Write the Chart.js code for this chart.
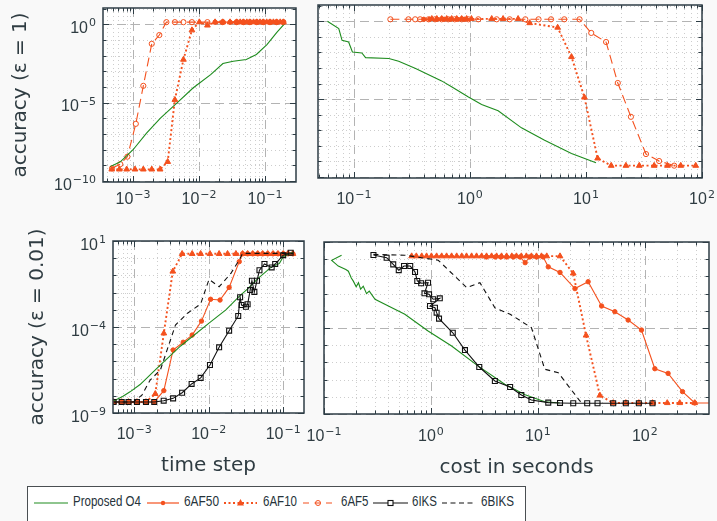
<!DOCTYPE html>
<html>
<head>
<meta charset="utf-8">
<script src="https://cdn.jsdelivr.net/npm/chart.js@4.4.1/dist/chart.umd.min.js"></script>
<style>
  html, body { margin: 0; padding: 0; background: #f9f9f9; width: 717px; height: 521px; overflow: hidden; }
  canvas { position: absolute; }
  #legend { position: absolute; left: 27px; top: 486px; width: 497px; height: 44px; background: #fff; border: 1px solid #4a4f52; }
  .sw { position: absolute; top: 10px; }
  .lt { position: absolute; top: 6px; font: 14.5px "Liberation Sans Narrow", "Liberation Sans", sans-serif; color: #26333a; white-space: nowrap; transform-origin: 0 0; }
</style>
</head>
<body>
<canvas id="tl" width="310" height="212" style="left:0;top:0"></canvas>
<canvas id="tr" width="407" height="212" style="left:310px;top:0"></canvas>
<canvas id="bl" width="295" height="265" style="left:15px;top:215px"></canvas>
<canvas id="br" width="422" height="265" style="left:295px;top:215px"></canvas>

<div id="legend">
  <svg class="sw" style="left:6px" width="34" height="12"><line x1="0" y1="6" x2="34" y2="6" stroke="#1e8c1e" stroke-width="1.2"/></svg>
  <span class="lt" data-w="68" style="left:45px">Proposed O4</span>
  <svg class="sw" style="left:119px" width="32" height="12"><line x1="0" y1="6" x2="32" y2="6" stroke="#f4511e" stroke-width="1.2"/><circle cx="16" cy="6" r="2.2" fill="#f4511e"/></svg>
  <span class="lt" data-w="35" style="left:156px">6AF50</span>
  <svg class="sw" style="left:196px" width="33" height="12"><line x1="0" y1="6" x2="33" y2="6" stroke="#f4511e" stroke-width="1.8" stroke-dasharray="2 2.5"/><polygon points="16.5,2 20,8.5 13,8.5" fill="#f4511e"/></svg>
  <span class="lt" data-w="34" style="left:235px">6AF10</span>
  <svg class="sw" style="left:275px" width="30" height="12"><line x1="0" y1="6" x2="30" y2="6" stroke="#f4511e" stroke-width="1.2" stroke-dasharray="6 5.5"/><circle cx="15" cy="6" r="2.5" fill="none" stroke="#f4511e" stroke-width="1"/></svg>
  <span class="lt" data-w="27.5" style="left:313px">6AF5</span>
  <svg class="sw" style="left:345px" width="35" height="12"><line x1="0" y1="6" x2="35" y2="6" stroke="#111" stroke-width="1.2"/><rect x="15" y="3.5" width="5" height="5" fill="#fff" stroke="#111" stroke-width="1.1"/></svg>
  <span class="lt" data-w="25" style="left:384px">6IKS</span>
  <svg class="sw" style="left:414px" width="32" height="12"><line x1="0" y1="6" x2="32" y2="6" stroke="#111" stroke-width="1.2" stroke-dasharray="5 3.5"/></svg>
  <span class="lt" data-w="33" style="left:453px">6BIKS</span>
</div>

<script>
// ---- data: [x, y] pairs ----
// top left: accuracy (eps = 1) vs time step
const tlO4 = [[4.5e-4, 8.3e-10], [6.4e-4, 1.7e-9], [1.0e-3, 1.0e-8], [1.6e-3, 1.15e-7], [2.6e-3, 1.05e-6], [4.6e-3, 9.5e-6], [8.1e-3, 8.7e-5], [1.5e-2, 6.2e-4], [2.3e-2, 3.2e-3], [3.3e-2, 4.5e-3], [5.2e-2, 5.8e-3], [7.4e-2, 1.2e-2], [0.107, 5.2e-2], [0.15, 0.3], [0.2, 1.15]];
const tlAF50 = [[1.75e-2, 1.4], [2.29e-2, 1.4], [2.95e-2, 1.4], [3.72e-2, 1.4], [4.7e-2, 1.4], [5.9e-2, 1.4], [7.5e-2, 1.4], [9.4e-2, 1.4], [0.119, 1.4], [0.15, 1.4], [0.19, 1.4]];
const tlAF10 = [[4.75e-4, 5.6e-10], [6.2e-4, 5.6e-10], [8.0e-4, 5.6e-10], [1.07e-3, 5.6e-10], [1.43e-3, 5.6e-10], [1.92e-3, 5.6e-10], [2.57e-3, 5.6e-10], [3.35e-3, 1.7e-9], [4.3e-3, 1.55e-5], [5.8e-3, 5.7e-3], [7.8e-3, 0.43], [1.01e-2, 1.4], [1.34e-2, 0.87], [1.75e-2, 1.4], [2.29e-2, 1.4], [2.95e-2, 1.4], [3.72e-2, 1.4], [4.2e-2, 1.4], [4.7e-2, 1.4], [5.3e-2, 1.4], [5.9e-2, 1.4], [6.7e-2, 1.4], [7.5e-2, 1.4], [8.4e-2, 1.4], [9.4e-2, 1.4], [0.106, 1.4], [0.119, 1.4], [0.134, 1.4], [0.15, 1.4], [0.17, 1.4], [0.19, 1.4]];
const tlAF5 = [[4.8e-4, 6.5e-10], [6.4e-4, 1.2e-9], [8.2e-4, 3.6e-9], [1.1e-3, 4.5e-7], [1.43e-3, 1.2e-4], [1.92e-3, 5.8e-2], [2.5e-3, 0.21], [3.2e-3, 1.4], [4.3e-3, 1.4], [5.8e-3, 1.4], [7.8e-3, 1.4], [1.34e-2, 1.4], [2.29e-2, 1.4], [3.72e-2, 1.4], [4.7e-2, 1.4], [5.9e-2, 1.4], [7.5e-2, 1.4], [9.4e-2, 1.4], [0.119, 1.4], [0.15, 1.4], [0.19, 1.4]];

// top right: accuracy (eps = 1) vs cost
const trO4 = [[0.059, 1.0], [0.074, 0.34], [0.079, 0.06], [0.09, 0.047], [0.097, 0.0107], [0.117, 0.0093], [0.126, 0.0047], [0.2, 0.0041], [0.243, 0.0027], [0.34, 9.3e-4], [0.57, 1.5e-4], [0.70, 6.1e-5], [0.97, 1.4e-5], [1.26, 4.6e-6], [1.75, 1.8e-6], [2.78, 1.45e-7], [4.4, 2.3e-8], [7.5, 3.3e-9], [12.2, 8.3e-10]];
const trAF50 = [[0.40, 1.35], [0.45, 1.35], [0.52, 1.35], [0.60, 1.35], [0.68, 1.35], [0.78, 1.35], [0.90, 1.35]];
const trAF10 = [[0.469, 1.45], [0.518, 1.45], [0.571, 1.45], [0.63, 1.45], [0.696, 1.45], [0.769, 1.45], [0.848, 1.45], [0.936, 1.45], [1.03, 1.45], [1.54, 1.45], [1.93, 1.45], [2.6, 1.45], [3.27, 0.78], [5.7, 0.4], [7.5, 5.2e-3], [9.7, 1.3e-5], [12.6, 1.6e-9], [16.5, 5.4e-10], [22.1, 5.4e-10], [28.8, 5.4e-10], [38.7, 5.4e-10], [50.4, 5.4e-10], [65.6, 5.4e-10], [88.3, 5.4e-10]];
const trAF5 = [[0.206, 1.35], [0.295, 1.35], [0.337, 1.35], [0.372, 1.35], [0.44, 1.35], [0.5, 1.35], [0.57, 1.35], [0.65, 1.35], [0.74, 1.35], [0.85, 1.35], [0.97, 1.35], [1.18, 1.35], [1.7, 1.35], [2.2, 1.35], [3.0, 1.35], [3.9, 1.35], [5.0, 1.35], [6.5, 1.35], [8.8, 1.35], [11.1, 0.18], [14.9, 0.047], [18.8, 1.1e-4], [24.4, 7.4e-7], [32.9, 3.0e-9], [42.7, 1.07e-9], [57.6, 5.4e-10]];

// bottom left: accuracy (eps = 0.01) vs time step
const blO4 = [[5.3e-4, 5.0e-9], [7.0e-4, 9e-9], [8.8e-4, 1.7e-8], [1.2e-3, 4.5e-8], [2.0e-3, 3.8e-7], [4.2e-3, 7.9e-6], [1.06e-2, 2.0e-4], [1.7e-2, 9.8e-4], [2.57e-2, 6.0e-3], [3.3e-2, 1.6e-2], [4.6e-2, 6.7e-2], [6.9e-2, 0.3], [8.9e-2, 0.5], [0.1, 1.2], [0.135, 2.2]];
const blAF50 = [[5.3e-4, 4.4e-9], [6.8e-4, 4.4e-9], [8.4e-4, 4.4e-9], [1.09e-3, 4.4e-9], [1.44e-3, 4.4e-9], [1.86e-3, 4.4e-9], [2.5e-3, 2.0e-8], [3.33e-3, 4.6e-6], [4.55e-3, 1.3e-5], [6.0e-3, 3.4e-5], [8.0e-3, 2.2e-4], [1.06e-2, 4.1e-3], [1.42e-2, 3.7e-3], [1.88e-2, 2.0e-2], [2.57e-2, 0.63], [2.85e-2, 1.8], [3.33e-2, 1.8], [3.9e-2, 1.8], [4.55e-2, 1.8], [5.3e-2, 1.8], [6.2e-2, 1.8], [7.3e-2, 1.8], [8.5e-2, 1.8], [0.1, 1.8], [0.116, 1.8], [0.135, 1.8]];
const blAF10 = [[5.3e-4, 4.4e-9], [6.8e-4, 4.4e-9], [8.4e-4, 4.4e-9], [1.09e-3, 4.4e-9], [1.44e-3, 4.4e-9], [1.92e-3, 1.3e-8], [2.5e-3, 4.3e-5], [3.3e-3, 0.17], [4.4e-3, 1.8], [6.0e-3, 1.8], [7.8e-3, 1.8], [1.04e-2, 1.8], [1.38e-2, 1.8], [1.79e-2, 1.8], [2.32e-2, 1.8], [2.85e-2, 1.8], [3.33e-2, 1.8], [3.9e-2, 1.8], [4.55e-2, 1.8], [5.3e-2, 1.8], [6.2e-2, 1.8], [7.3e-2, 1.8], [8.5e-2, 1.8], [0.1, 1.8], [0.116, 1.8], [0.135, 1.8]];
const blIKS = [[5.3e-4, 4.4e-9], [6.8e-4, 4.4e-9], [8.4e-4, 4.4e-9], [1.09e-3, 4.4e-9], [1.44e-3, 4.4e-9], [1.86e-3, 4.4e-9], [2.49e-3, 5.2e-9], [3.33e-3, 7.1e-9], [4.4e-3, 1.5e-8], [5.9e-3, 4.9e-8], [7.8e-3, 1.1e-7], [1.04e-2, 6.2e-7], [1.38e-2, 6.6e-6], [1.88e-2, 6.1e-5], [2.49e-2, 4.4e-4], [2.64e-2, 5.4e-3], [2.76e-2, 1.9e-3], [3.16e-2, 1.5e-3], [3.33e-2, 2.1e-3], [3.6e-2, 1.4e-2], [3.8e-2, 4.9e-2], [4.1e-2, 1.1e-2], [4.45e-2, 4.9e-2], [4.8e-2, 0.2], [5.6e-2, 0.46], [7.0e-2, 0.29], [7.8e-2, 0.46], [0.1, 1.5], [0.126, 2.1]];
const blBIKS = [[5.3e-4, 4.4e-9], [9.8e-4, 4.4e-9], [1.27e-3, 1.1e-8], [1.64e-3, 8.3e-8], [2.25e-3, 3.2e-7], [3.06e-3, 1.7e-5], [3.58e-3, 1.3e-4], [5.2e-3, 6.3e-4], [7.8e-3, 2.2e-3], [1.01e-2, 5.9e-2], [1.38e-2, 2.2e-2], [1.98e-2, 0.13], [2.57e-2, 0.8], [2.85e-2, 1.9], [0.135, 1.9]];

// bottom right: accuracy (eps = 0.01) vs cost
const brO4 = [[0.146, 1.7], [0.118, 0.86], [0.136, 0.4], [0.16, 0.25], [0.169, 0.2], [0.18, 0.08], [0.188, 5.3e-2], [0.2, 2.5e-2], [0.21, 4.3e-2], [0.22, 1.8e-2], [0.233, 2.7e-2], [0.25, 1.0e-2], [0.265, 1.4e-2], [0.30, 4.7e-3], [0.40, 1.9e-3], [0.57, 6.3e-4], [0.94, 6.7e-5], [1.56, 9e-6], [2.77, 6.1e-7], [4.9, 5.4e-8], [7.6, 1.3e-8], [11.6, 5.2e-9], [16, 4.4e-9]];
const brAF50 = [[3.3, 1.35], [4.0, 1.35], [4.5, 1.35], [5.1, 1.35], [5.9, 1.35], [6.8, 1.35], [7.6, 0.63], [8.4, 1.35], [9.7, 1.35], [11.2, 1.35], [12.5, 0.36], [16.1, 0.17], [22.2, 0.0195], [29.5, 0.049], [39.4, 1.9e-3], [52.4, 8.9e-4], [69.8, 2.9e-4], [93, 7.6e-5], [124, 4.3e-7], [165, 2.3e-7], [225, 2.0e-8], [293, 4.4e-9], [480, 4.4e-9]];
const brAF10 = [[0.66, 1.5], [0.73, 1.5], [0.82, 1.5], [0.91, 1.5], [1.01, 1.5], [1.13, 1.5], [1.26, 1.5], [1.40, 1.5], [1.56, 1.5], [1.74, 1.5], [1.94, 1.5], [2.15, 1.5], [2.40, 1.5], [2.67, 1.5], [2.98, 1.5], [3.31, 1.5], [3.69, 1.5], [4.11, 1.5], [4.57, 1.5], [5.1, 1.5], [5.7, 1.5], [6.3, 1.5], [7.0, 1.5], [7.8, 1.5], [8.7, 1.5], [9.7, 1.5], [10.8, 1.5], [12.1, 1.5], [16.1, 1.5], [21.4, 0.15], [28.2, 3.7e-5], [38, 1.2e-8], [50.6, 4.4e-9], [66.4, 4.4e-9], [87.9, 4.4e-9], [118, 4.4e-9], [162, 4.4e-9], [212, 4.4e-9], [293, 4.4e-9]];
const brIKS = [[0.29, 1.75], [0.385, 1.22], [0.444, 0.5], [0.50, 0.23], [0.56, 0.40], [0.64, 0.40], [0.71, 0.18], [0.745, 0.054], [0.81, 0.04], [0.94, 0.043], [0.87, 0.0104], [0.96, 0.0091], [1.05, 0.0047], [1.21, 0.0053], [0.98, 0.0019], [1.09, 0.0015], [1.13, 7.8e-4], [1.19, 3.5e-4], [1.6, 5.3e-5], [2.08, 5.2e-6], [2.83, 5.4e-7], [3.96, 8.3e-8], [5.5, 3.7e-8], [7.0, 1.27e-8], [8.7, 6.5e-9], [12.5, 4.6e-9], [16.1, 4.4e-9], [21.4, 4.2e-9], [28.9, 4.2e-9], [36.1, 4.2e-9], [50.6, 4.2e-9], [66.4, 4.2e-9], [87.9, 4.2e-9], [118, 4.2e-9]];
const brBIKS = [[0.29, 1.9], [0.57, 1.7], [1.17, 0.87], [2.16, 0.022], [2.87, 0.043], [3.96, 1.5e-3], [5.5, 6.3e-4], [8.7, 1.04e-4], [11.6, 4e-7], [15.5, 2.5e-7], [24.7, 5.7e-9], [27.5, 4.4e-9]];

// ---- styles ----
const ORANGE = '#f4511e';
const GREEN = '#1e8c1e';
const INK = '#2f3c42';
const FRAME = '#2e3d45';
const NONE = 'rgba(0,0,0,0)';

const styles = {
  'Proposed O4': { borderColor: GREEN, borderWidth: 1.1, pointRadius: 0 },
  '6AF50': { borderColor: ORANGE, borderWidth: 1.1, pointStyle: 'circle', pointRadius: 2.2, pointBackgroundColor: ORANGE, pointBorderColor: ORANGE, pointBorderWidth: 1 },
  '6AF10': { borderColor: ORANGE, borderWidth: 1.9, borderDash: [2, 2.5], pointStyle: 'triangle', pointRadius: 3.3, pointBackgroundColor: ORANGE, pointBorderColor: ORANGE, pointBorderWidth: 1 },
  '6AF5': { borderColor: ORANGE, borderWidth: 1.1, borderDash: [9, 5], pointStyle: 'circle', pointRadius: 2.6, pointBackgroundColor: NONE, pointBorderColor: ORANGE, pointBorderWidth: 1 },
  '6IKS': { borderColor: '#111', borderWidth: 1.1, pointStyle: 'rect', pointRadius: 3.5, pointBackgroundColor: NONE, pointBorderColor: '#111', pointBorderWidth: 1.1 },
  '6BIKS': { borderColor: '#111', borderWidth: 1.1, borderDash: [5, 4], pointRadius: 0 }
};

function series(label, pts) {
  return Object.assign({ label: label, data: pts.map(p => ({ x: p[0], y: p[1] })), tension: 0, fill: false }, styles[label]);
}

function logMarks(min, max, withMinor) {
  const out = [];
  for (let e = Math.floor(Math.log10(min)); e <= Math.ceil(Math.log10(max)); e++) {
    for (let m = 1; m < 10; m++) {
      if (m > 1 && !withMinor) break;
      const v = m * Math.pow(10, e);
      if (v >= min * 0.9999 && v <= max * 1.0001) out.push({ v: v, e: e, decade: m === 1 });
    }
  }
  return out;
}

function isMajorY(e, base) { return ((((e - base) % 5) + 5) % 5) === 0; }

// "10" with a raised exponent, anchored at (x, baseline)
function drawPow(ctx, e, x, y, align) {
  const ex = String(e).replace('-', '\u2212');
  ctx.font = '16px "Liberation Sans"';
  const wb = ctx.measureText('10').width;
  ctx.font = '11px "DejaVu Sans"';
  const we = ctx.measureText(ex).width;
  const w = wb + 1 + we;
  const left = align === 'center' ? x - w / 2 : x - w;
  ctx.fillStyle = INK;
  ctx.textAlign = 'left';
  ctx.textBaseline = 'alphabetic';
  ctx.font = '16px "Liberation Sans"';
  ctx.fillText('10', left, y);
  ctx.font = '11px "DejaVu Sans"';
  ctx.fillText(ex, left + wb + 1, y - 6.5);
}

// grid, inward tick marks, frame and tick labels drawn from the chart's own scales
const decor = {
  id: 'decor',
  beforeDatasetsDraw(chart, args, opts) {
    const { ctx, chartArea: a, scales: { x, y } } = chart;
    ctx.save();
    ctx.fillStyle = '#ffffff';
    ctx.fillRect(a.left, a.top, a.width, a.height);
    ctx.lineWidth = 1;
    for (const t of logMarks(x.min, x.max, true)) {
      const px = Math.round(x.getPixelForValue(t.v)) + 0.5;
      ctx.strokeStyle = t.decade ? '#b3b3b3' : '#cdcdcd';
      ctx.setLineDash(t.decade ? [9, 5] : [1, 3]);
      ctx.beginPath(); ctx.moveTo(px, a.top); ctx.lineTo(px, a.bottom); ctx.stroke();
    }
    for (const t of logMarks(y.min, y.max, false)) {
      const major = isMajorY(t.e, opts.base);
      const py = Math.round(y.getPixelForValue(t.v)) + 0.5;
      ctx.strokeStyle = major ? '#b3b3b3' : '#cdcdcd';
      ctx.setLineDash(major ? [9, 5] : [1, 3]);
      ctx.beginPath(); ctx.moveTo(a.left, py); ctx.lineTo(a.right, py); ctx.stroke();
    }
    ctx.restore();
  },
  afterDatasetsDraw(chart, args, opts) {
    const { ctx, chartArea: a, scales: { x, y } } = chart;
    ctx.save();
    ctx.strokeStyle = FRAME;
    ctx.lineWidth = 1;
    ctx.setLineDash([]);
    ctx.beginPath();
    for (const t of logMarks(x.min, x.max, true)) {
      const px = Math.round(x.getPixelForValue(t.v)) + 0.5;
      const len = t.decade ? 6 : 3.5;
      ctx.moveTo(px, a.bottom); ctx.lineTo(px, a.bottom - len);
      ctx.moveTo(px, a.top); ctx.lineTo(px, a.top + len);
    }
    for (const t of logMarks(y.min, y.max, false)) {
      const py = Math.round(y.getPixelForValue(t.v)) + 0.5;
      const len = isMajorY(t.e, opts.base) ? 6 : 3.5;
      ctx.moveTo(a.left, py); ctx.lineTo(a.left + len, py);
      ctx.moveTo(a.right, py); ctx.lineTo(a.right - len, py);
    }
    ctx.stroke();
    ctx.lineWidth = 1.5;
    ctx.strokeRect(a.left, a.top, a.width, a.height);

    // tick labels
    for (const t of logMarks(x.min, x.max, false)) {
      drawPow(ctx, t.e, x.getPixelForValue(t.v), a.bottom + opts.xLab, 'center');
    }
    if (opts.yLab) {
      for (const t of logMarks(y.min, y.max, false)) {
        if (isMajorY(t.e, opts.base)) drawPow(ctx, t.e, a.left - 7, y.getPixelForValue(t.v) + 8.5, 'right');
      }
    }
    ctx.restore();
  }
};

function panel(id, p) {
  const titleFont = { family: 'DejaVu Sans', size: 20 };
  return new Chart(document.getElementById(id), {
    type: 'line',
    data: { datasets: p.sets },
    options: {
      responsive: false,
      animation: false,
      layout: { padding: p.pad },
      plugins: {
        legend: { display: false },
        tooltip: { enabled: false },
        decor: { base: p.yBase, xLab: p.xLab, yLab: p.yLabels }
      },
      scales: {
        x: {
          type: 'logarithmic', min: p.xMin, max: p.xMax,
          grid: { display: false, drawTicks: false }, border: { display: false },
          ticks: { display: false },
          title: { display: !!p.xTitle, text: p.xTitle || '', font: titleFont, color: INK, padding: { top: 0, bottom: p.xTitlePad || 0 } },
          afterFit: s => { s.height = p.xH; s.paddingLeft = 0; s.paddingRight = 0; }
        },
        y: {
          type: 'logarithmic', min: p.yMin, max: p.yMax,
          grid: { display: false, drawTicks: false }, border: { display: false },
          ticks: { display: false },
          title: { display: !!p.yTitle, text: p.yTitle || '', font: titleFont, color: INK, padding: { top: p.yTitlePad || 0, bottom: 0 } },
          afterFit: s => { s.width = p.yW; s.paddingTop = 0; s.paddingBottom = 0; }
        }
      }
    },
    plugins: [decor]
  });
}

panel('tl', {
  sets: [series('6AF10', tlAF10), series('6AF50', tlAF50), series('Proposed O4', tlO4), series('6AF5', tlAF5)],
  pad: { left: 0, right: 14, top: 8, bottom: 0 },
  xMin: 3.5e-4, xMax: 0.295, yMin: 8.7e-11, yMax: 11.2, yBase: 0,
  xH: 30, yW: 103, xLab: 22, yLabels: true,
  yTitle: 'accuracy (ε = 1)', yTitlePad: 8.5
});

panel('tr', {
  sets: [series('6AF10', trAF10), series('6AF50', trAF50), series('Proposed O4', trO4), series('6AF5', trAF5)],
  pad: { left: 8, right: 15, top: 5, bottom: 0 },
  xMin: 0.049, xMax: 100, yMin: 8.7e-11, yMax: 11.2, yBase: 0,
  xH: 34, yW: 0, xLab: 26, yLabels: false
});

panel('bl', {
  sets: [series('6IKS', blIKS), series('6BIKS', blBIKS), series('Proposed O4', blO4), series('6AF50', blAF50), series('6AF10', blAF10)],
  pad: { left: 0, right: 6, top: 26, bottom: 0 },
  xMin: 5.2e-4, xMax: 0.19, yMin: 1e-9, yMax: 10, yBase: 1,
  xH: 67, yW: 98, xLab: 26, yLabels: true,
  xTitle: 'time step', xTitlePad: 2,
  yTitle: 'accuracy (ε = 0.01)', yTitlePad: 10.5
});

panel('br', {
  sets: [series('6IKS', brIKS), series('6BIKS', brBIKS), series('Proposed O4', brO4), series('6AF50', brAF50), series('6AF10', brAF10)],
  pad: { left: 29, right: 8, top: 27, bottom: 0 },
  xMin: 0.1, xMax: 398, yMin: 1e-9, yMax: 10, yBase: 1,
  xH: 66, yW: 0, xLab: 27, yLabels: false,
  xTitle: 'cost in seconds', xTitlePad: 0
});

// fit legend labels to the widths they take in the figure
document.querySelectorAll('.lt').forEach(function (el) {
  const w = el.getBoundingClientRect().width;
  el.style.transform = 'scaleX(' + (parseFloat(el.dataset.w) / w) + ')';
});
</script>
</body>
</html>
